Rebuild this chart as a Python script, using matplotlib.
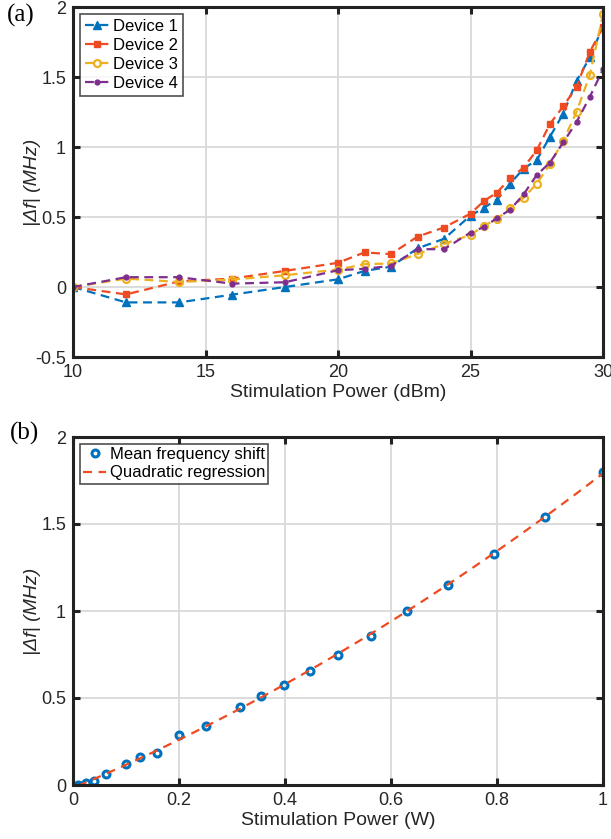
import matplotlib
matplotlib.use('Agg')
import matplotlib.pyplot as plt
import numpy as np

# stimulation power points (dBm)
power_dbm = [10, 12, 14, 16, 18, 20, 21, 22, 23, 24, 25, 25.5, 26, 26.5, 27, 27.5, 28, 28.5, 29, 29.5, 30]

# |delta f| per device (MHz)
device1 = [0, -0.11, -0.11, -0.055, 0, 0.055, 0.115, 0.145, 0.276, 0.344, 0.51, 0.565, 0.625, 0.738,
           0.846, 0.906, 1.074, 1.238, 1.47, 1.64, 1.862]
device2 = [0, -0.053, 0.04, 0.06, 0.115, 0.173, 0.247, 0.235, 0.36, 0.425, 0.524, 0.613, 0.675, 0.776,
           0.853, 0.976, 1.166, 1.29, 1.43, 1.678, 1.858]
device3 = [0, 0.06, 0.036, 0.053, 0.084, 0.125, 0.163, 0.168, 0.235, 0.308, 0.372, 0.437, 0.485, 0.565,
           0.637, 0.738, 0.877, 1.045, 1.25, 1.514, 1.947]
device4 = [0, 0.07, 0.07, 0.024, 0.034, 0.12, 0.13, 0.151, 0.27, 0.27, 0.389, 0.428, 0.492, 0.553,
           0.661, 0.8, 0.889, 1.033, 1.177, 1.357, 1.555]

# panel (b): mean shift vs power in W
power_w = [0.01, 0.0158, 0.0251, 0.0398, 0.0631, 0.1, 0.126, 0.158, 0.2, 0.251, 0.316, 0.355, 0.398,
           0.447, 0.5, 0.562, 0.631, 0.708, 0.794, 0.891, 1.0]
mean_shift = [0.0, -0.005, 0.01, 0.023, 0.061, 0.123, 0.163, 0.184, 0.29, 0.338, 0.451, 0.509, 0.573,
              0.657, 0.75, 0.855, 1.0, 1.15, 1.33, 1.54, 1.80]

plt.rcParams['font.family'] = ['Liberation Sans', 'DejaVu Sans']
plt.rcParams['font.size'] = 12

c_blue = '#0072BD'
c_red = '#EE4B22'
c_orange = '#EDB120'
c_purple = '#7E2F8E'
c_text = '#262626'

W, H = 611, 839
fig = plt.figure(figsize=(W / 100, H / 100), dpi=100)


def style_axes(ax):
    for s in ax.spines.values():
        s.set_linewidth(2.2)
        s.set_color('#222222')
    ax.tick_params(direction='in', top=True, right=True, length=5, width=2.2, colors='#222222',
                   labelcolor=c_text, labelsize=13, pad=5)
    ax.grid(True, color='#d9d9d9', linewidth=1.3)
    ax.set_axisbelow(True)


def fmt(v):
    return ('%g' % v)


# ---- panel (a)
ax1 = fig.add_axes([73 / W, 1 - 357 / H, (603 - 73) / W, (357 - 7) / H])
style_axes(ax1)
ax1.plot(power_dbm, device1, '--', color=c_blue, marker='^', ms=6, lw=1.6, dashes=(4, 2.5), label='Device 1')
ax1.plot(power_dbm, device2, '--', color=c_red, marker='s', ms=4, mfc=c_red, lw=1.6, dashes=(4, 2.5), label='Device 2')
ax1.plot(power_dbm, device3, '--', color=c_orange, marker='o', ms=5, mfc='none', mew=1.6, lw=1.6, dashes=(4, 2.5), label='Device 3')
ax1.plot(power_dbm, device4, '--', color=c_purple, marker='o', ms=3.5, lw=1.6, dashes=(4, 2.5), label='Device 4')
ax1.set_xlim(10, 30)
ax1.set_ylim(-0.5, 2)
ax1.set_xticks([10, 15, 20, 25, 30])
ax1.set_yticks([-0.5, 0, 0.5, 1, 1.5, 2])
ax1.set_yticklabels([fmt(v) for v in [-0.5, 0, 0.5, 1, 1.5, 2]])
ax1.set_xlabel('Stimulation Power (dBm)', fontsize=14, color=c_text, labelpad=2)
ax1.set_ylabel('|Δf| (MHz)', fontsize=14, fontstyle='italic', color=c_text)
ax1.yaxis.set_label_coords(-0.060, 0.5)
leg1 = ax1.legend(loc='upper left', fontsize=12, frameon=True, fancybox=False, edgecolor='#222222',
                  handlelength=1.5, handletextpad=0.2, borderpad=0.3, labelspacing=0.25,
                  borderaxespad=0.4)
leg1.get_frame().set_linewidth(1.2)
fig.text(7 / W, 1 - 15 / H, '(a)', family='Liberation Serif', fontsize=18, va='center', ha='left')

# ---- panel (b)
ax2 = fig.add_axes([73 / W, 1 - 785 / H, (603 - 73) / W, (785 - 437) / H])
style_axes(ax2)
coef = np.polyfit(power_w, mean_shift, 2)
xf = np.linspace(power_w[0], 1.0, 200)
ax2.plot(power_w, mean_shift, 'o', color=c_blue, ms=5, mfc='none', mew=2.2, label='Mean frequency shift')
ax2.plot(xf, np.polyval(coef, xf), '--', color=c_red, lw=1.6, dashes=(4, 3), label='Quadratic regression')
ax2.set_xlim(0, 1)
ax2.set_ylim(0, 2)
ax2.set_xticks([0, 0.2, 0.4, 0.6, 0.8, 1])
ax2.set_xticklabels([fmt(v) for v in [0, 0.2, 0.4, 0.6, 0.8, 1]])
ax2.set_yticks([0, 0.5, 1, 1.5, 2])
ax2.set_yticklabels([fmt(v) for v in [0, 0.5, 1, 1.5, 2]])
ax2.set_xlabel('Stimulation Power (W)', fontsize=14, color=c_text, labelpad=2)
ax2.set_ylabel('|Δf| (MHz)', fontsize=14, fontstyle='italic', color=c_text)
ax2.yaxis.set_label_coords(-0.060, 0.5)
leg2 = ax2.legend(loc='upper left', fontsize=12, frameon=True, fancybox=False, edgecolor='#222222',
                  handlelength=1.4, handletextpad=0.2, borderpad=0.2, labelspacing=0.2,
                  borderaxespad=0.4)
leg2.get_frame().set_linewidth(1.2)
fig.text(10 / W, 1 - 433 / H, '(b)', family='Liberation Serif', fontsize=18, va='center', ha='left')

fig.savefig('out.png', dpi=100)
